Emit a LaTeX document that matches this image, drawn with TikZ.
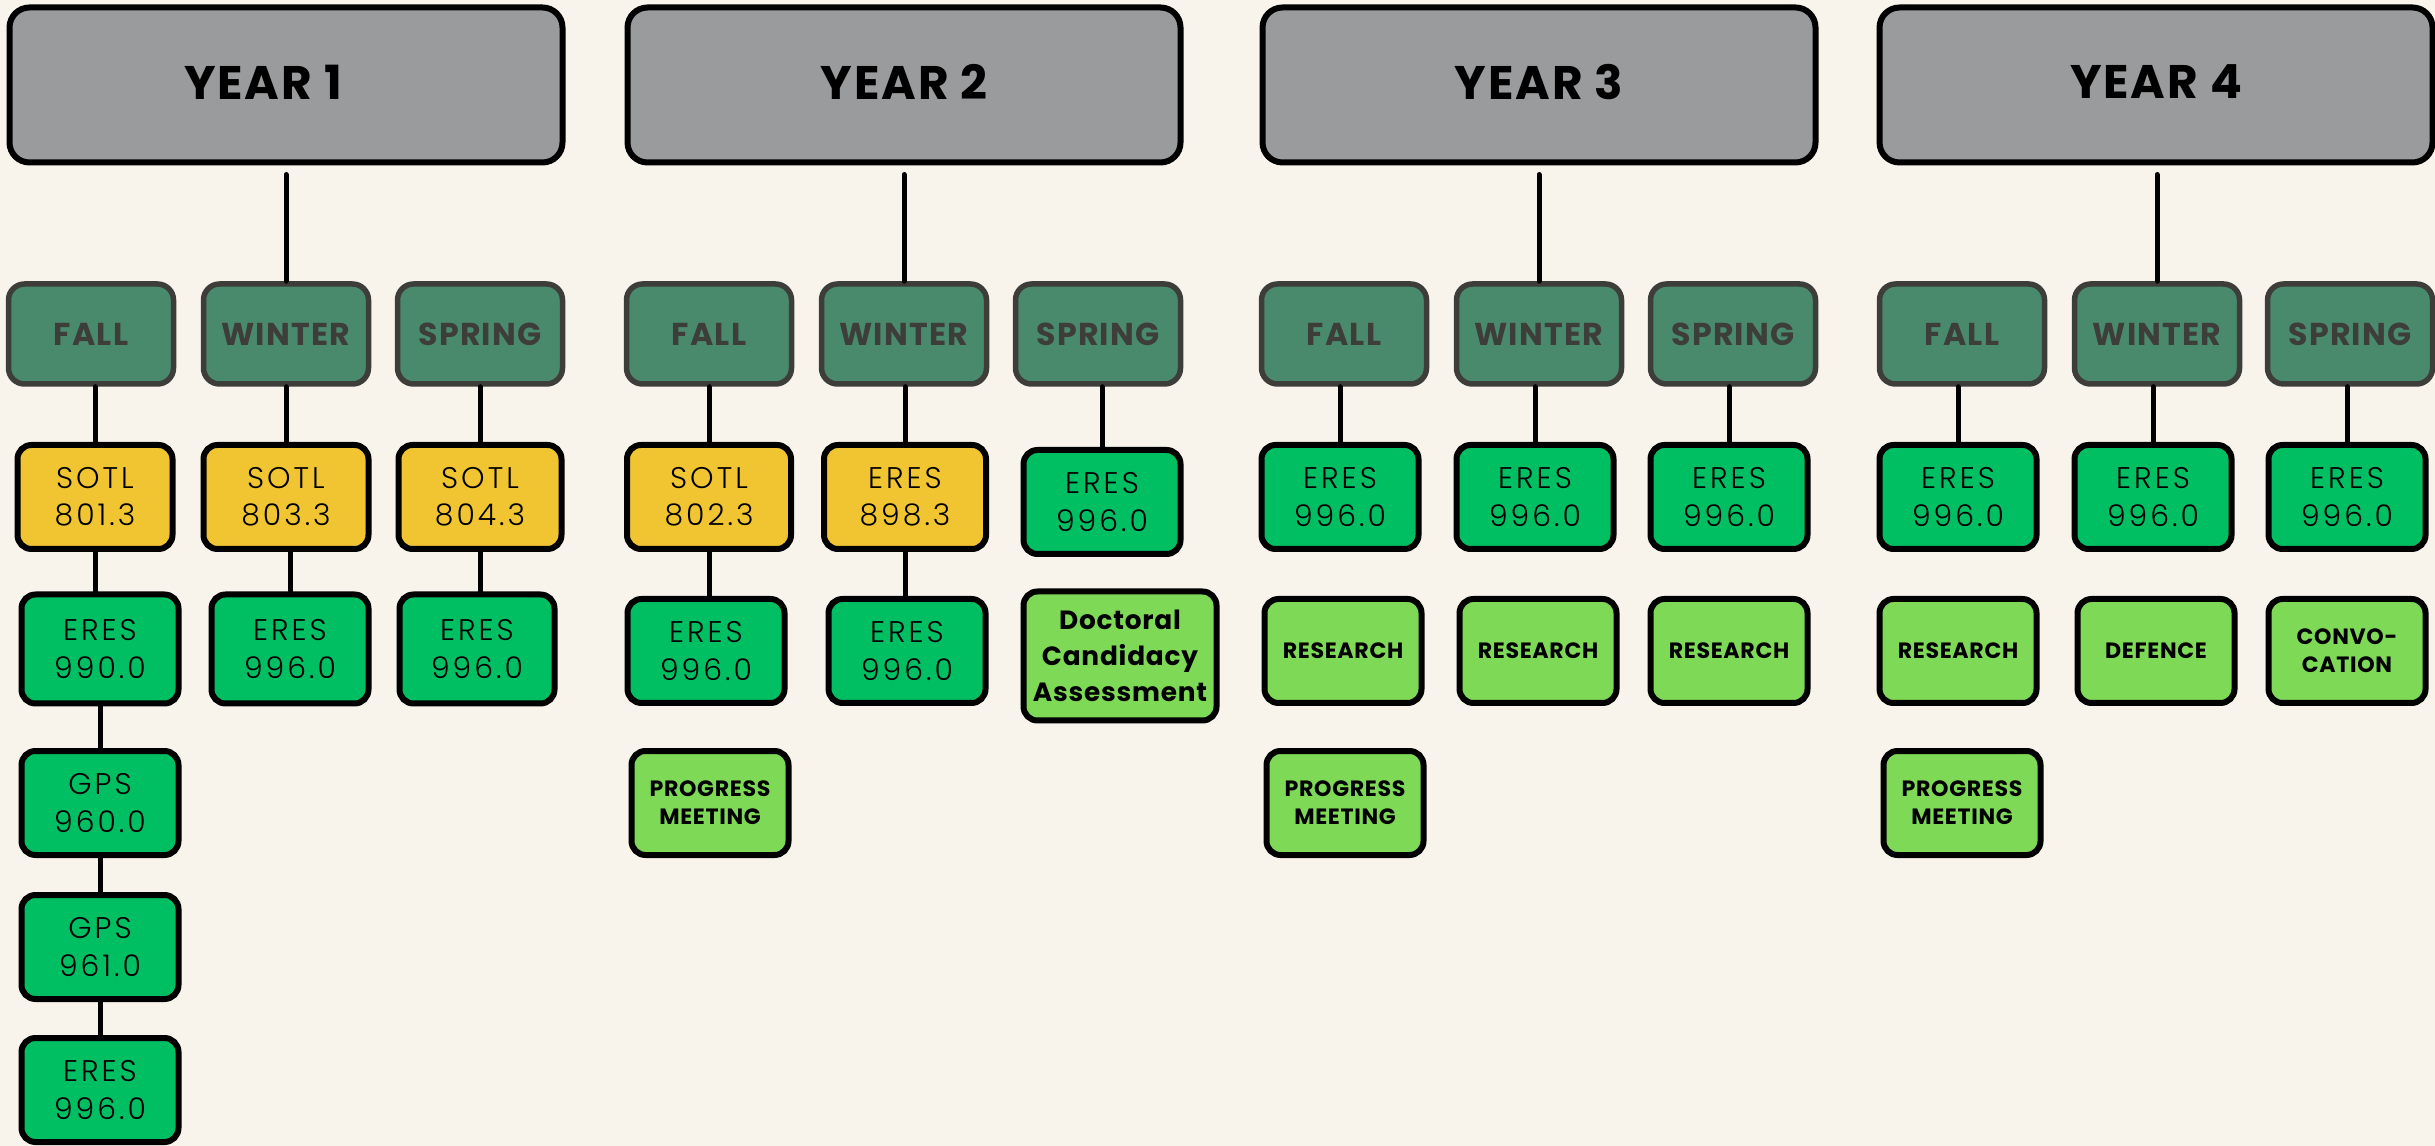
\documentclass[tikz,border=0pt]{standalone}
\usepackage{fontspec}
\setmainfont{Poppins}
\newfontfamily\headfam[LetterSpace=4]{Poppins}
\newfontfamily\coursefam[LetterSpace=10,UprightFont={* Light}]{Poppins}
\newfontfamily\taskfam[LetterSpace=3]{Poppins}
\newcommand{\yearfont}{\headfam\bfseries\fontsize{13.4}{16}\selectfont}
\newcommand{\seasonfont}{\headfam\bfseries\fontsize{9}{10}\selectfont}
\newcommand{\coursefont}{\coursefam\fontsize{8.5}{10.6}\selectfont}
\newcommand{\taskfont}{\taskfam\bfseries\fontsize{6.3}{8}\selectfont}
\newcommand{\docfont}{\taskfam\bfseries\fontsize{7.5}{10.3}\selectfont}
\definecolor{bgcream}{HTML}{F8F4EC}
\definecolor{yeargray}{HTML}{9A9B9D}
\definecolor{seasongreen}{HTML}{4A8A6C}
\definecolor{seasonline}{HTML}{3D3D3A}
\definecolor{sotlyellow}{HTML}{F1C531}
\definecolor{eresgreen}{HTML}{00BF63}
\definecolor{tasklime}{HTML}{7ED957}
\begin{document}
\begin{tikzpicture}[x=0.1mm,y=-0.1mm,
    yearbox/.style={draw=black,fill=yeargray,line width=0.6mm,rounded corners=2mm,minimum width=55.3mm,minimum height=15.5mm,inner sep=0pt,font=\yearfont},
    seasonbox/.style={draw=seasonline,fill=seasongreen,text=seasonline,line width=0.55mm,rounded corners=1.6mm,minimum width=16.5mm,minimum height=10mm,inner sep=0pt,font=\seasonfont},
    coursebox/.style={draw=black,line width=0.6mm,rounded corners=1.4mm,minimum width=15.7mm,minimum height=10.4mm,inner sep=0pt,align=center,font=\coursefont},
    sotl/.style={coursebox,fill=sotlyellow},
    eres/.style={coursebox,fill=eresgreen},
    taskbox/.style={coursebox,fill=tasklime,font=\taskfont},
    link/.style={draw=black,line width=0.5mm,line cap=round}]
  \useasboundingbox (0,0) rectangle (2435,1146);
  \fill[bgcream] (0,0) rectangle (2435,1146);
  % years
  \node[yearbox] (y1) at (286,85) {\raisebox{0.6mm}{YEAR 1}\hspace*{4.6mm}};
  \node[yearbox] (y2) at (904,85) {\raisebox{0.6mm}{YEAR 2}};
  \node[yearbox] (y3) at (1539,85) {\raisebox{0.6mm}{YEAR 3}};
  \node[yearbox] (y4) at (2156,85) {\raisebox{0.6mm}{YEAR 4}};
  % seasons
  \node[seasonbox] (f1) at (91,334) {FALL};
  \node[seasonbox] (w1) at (286,334) {WINTER};
  \node[seasonbox] (s1) at (480,334) {SPRING};
  \node[seasonbox] (f2) at (709,334) {FALL};
  \node[seasonbox] (w2) at (904,334) {WINTER};
  \node[seasonbox] (s2) at (1098,334) {SPRING};
  \node[seasonbox] (f3) at (1344,334) {FALL};
  \node[seasonbox] (w3) at (1539,334) {WINTER};
  \node[seasonbox] (s3) at (1733,334) {SPRING};
  \node[seasonbox] (f4) at (1962,334) {FALL};
  \node[seasonbox] (w4) at (2157,334) {WINTER};
  \node[seasonbox] (s4) at (2350,334) {SPRING};
  % year 1
  \node[sotl,minimum width=15.5mm] (c1a) at (95,497) {SOTL\\801.3};
  \node[sotl,minimum width=16.5mm] (c1b) at (286,497) {SOTL\\803.3};
  \node[sotl,minimum width=16.3mm] (c1c) at (480,497) {SOTL\\804.3};
  \node[eres,minimum height=10.9mm] (d1a) at (100,649) {ERES\\990.0};
  \node[eres,minimum height=10.9mm] (d1b) at (290,649) {ERES\\996.0};
  \node[eres,minimum height=10.9mm,minimum width=15.5mm] (d1c) at (477,649) {ERES\\996.0};
  \node[eres] (g1) at (100,803) {GPS\\960.0};
  \node[eres] (g2) at (100,947) {GPS\\961.0};
  \node[eres] (e1) at (100,1090) {ERES\\996.0};
  % year 2
  \node[sotl,minimum width=16.4mm] (c2a) at (709,497) {SOTL\\802.3};
  \node[sotl,minimum width=16.2mm] (c2b) at (905,497) {ERES\\898.3};
  \node[eres] (c2c) at (1102,502) {ERES\\996.0};
  \node[eres] (d2a) at (706,651) {ERES\\996.0};
  \node[eres] (d2b) at (907,651) {ERES\\996.0};
  \node[taskbox,minimum width=19.3mm,minimum height=12.9mm,font=\docfont] (doc) at (1120,656) {Doctoral\\Candidacy\\Assessment};
  \node[taskbox] (p2) at (710,803) {PROGRESS\\MEETING};
  % year 3
  \node[eres] (c3a) at (1340,497) {ERES\\996.0};
  \node[eres] (c3b) at (1535,497) {ERES\\996.0};
  \node[eres] (c3c) at (1729,497) {ERES\\996.0};
  \node[taskbox] (r3a) at (1343,651) {RESEARCH};
  \node[taskbox] (r3b) at (1538,651) {RESEARCH};
  \node[taskbox] (r3c) at (1729,651) {RESEARCH};
  \node[taskbox] (p3) at (1345,803) {PROGRESS\\MEETING};
  % year 4
  \node[eres] (c4a) at (1958,497) {ERES\\996.0};
  \node[eres] (c4b) at (2153,497) {ERES\\996.0};
  \node[eres] (c4c) at (2347,497) {ERES\\996.0};
  \node[taskbox] (r4a) at (1958,651) {RESEARCH};
  \node[taskbox] (r4b) at (2156,651) {DEFENCE};
  \node[taskbox] (r4c) at (2347,651) {CONVO-\\CATION};
  \node[taskbox] (p4) at (1962,803) {PROGRESS\\MEETING};
  % links
  \draw[link,shorten >=0.9mm] (w1.north) -- (w1.north |- y1.south);
  \draw[link,shorten >=0.9mm] (w2.north) -- (w2.north |- y2.south);
  \draw[link,shorten >=0.9mm] (w3.north) -- (w3.north |- y3.south);
  \draw[link,shorten >=0.9mm] (w4.north) -- (w4.north |- y4.south);
  \draw[link] (c1a.north) -- (c1a.north |- f1.south);
  \draw[link] (c1b.north) -- (c1b.north |- w1.south);
  \draw[link] (c1c.north) -- (c1c.north |- s1.south);
  \draw[link] (c2a.north) -- (c2a.north |- f2.south);
  \draw[link] (c2b.north) -- (c2b.north |- w2.south);
  \draw[link] (c2c.north) -- (c2c.north |- s2.south);
  \draw[link] (c3a.north) -- (c3a.north |- f3.south);
  \draw[link] (c3b.north) -- (c3b.north |- w3.south);
  \draw[link] (c3c.north) -- (c3c.north |- s3.south);
  \draw[link] (c4a.north) -- (c4a.north |- f4.south);
  \draw[link] (c4b.north) -- (c4b.north |- w4.south);
  \draw[link] (c4c.north) -- (c4c.north |- s4.south);
  \draw[link] (c1a.south) -- (c1a.south |- d1a.north);
  \draw[link] (d1b.north) -- (d1b.north |- c1b.south);
  \draw[link] (c1c.south) -- (c1c.south |- d1c.north);
  \draw[link] (g1.north) -- (g1.north |- d1a.south);
  \draw[link] (g2.north) -- (g2.north |- g1.south);
  \draw[link] (e1.north) -- (e1.north |- g2.south);
  \draw[link] (c2a.south) -- (c2a.south |- d2a.north);
  \draw[link] (c2b.south) -- (c2b.south |- d2b.north);
\end{tikzpicture}
\end{document}
